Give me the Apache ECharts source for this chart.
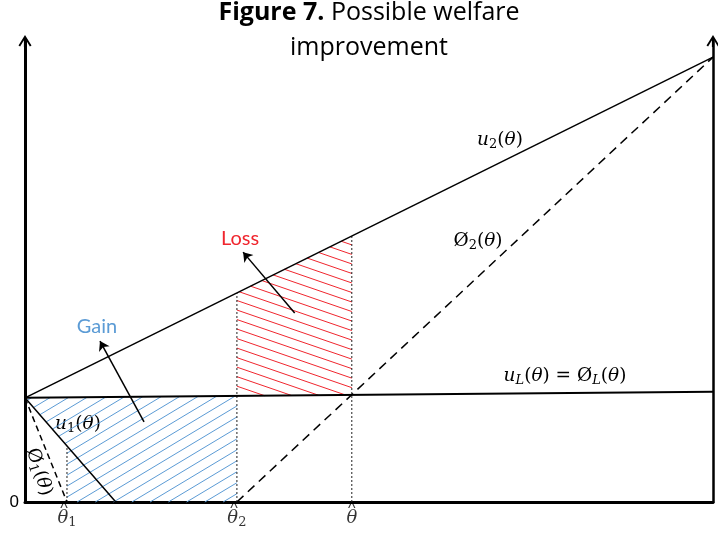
<!DOCTYPE html>
<html>
<head>
<meta charset="utf-8">
<script src="https://cdn.jsdelivr.net/npm/echarts@6/dist/echarts.min.js"></script>
<style>
  html, body { margin: 0; padding: 0; background: #ffffff; }
  #chart { width: 718px; height: 533px; }
</style>
</head>
<body>
<div id="chart"></div>
<script>
// Type index theta runs 0..100 horizontally, utility 0..100 vertically.
const thetaHat1 = 6.1;
const thetaHat2 = 30.8;
const thetaHat = 47.5;
const thetaMarks = [thetaHat1, thetaHat2, thetaHat];
const thetaLabels = ['{t|θ}{s|1}', '{t|θ}{s|2}', '{t|θ}'];

// Straight utility schedules, given by their two end points.
const uLLine = [[0, 22.6], [100, 23.9]];
const u2Line = [[0, 22.6], [100, 96.5]];
const phi2Line = [[thetaHat2, 0], [100, 96.5]];
const u1Line = [[0, 22.6], [13.2, 0]];
const phi1Line = [[0, 22.6], [thetaHat1, 0]];

// Pointers from the region captions into the shaded areas (tail, head).
const gainArrow = [[17.3, 17.4], [10.9, 34.9]];
const lossArrow = [[39.2, 41.0], [31.7, 54.2]];

// Height of a straight schedule at a given theta.
function lineAt(line, x) {
  const a = line[0], b = line[1];
  return a[1] + (b[1] - a[1]) * (x - a[0]) / (b[0] - a[0]);
}

// Gain: under u_L, left of theta-hat-2, above u_1 where u_1 is still positive before theta-hat-1.
const gainRegion = [
  [0, lineAt(uLLine, 0)],
  [thetaHat2, lineAt(uLLine, thetaHat2)],
  [thetaHat2, 0],
  [thetaHat1, 0],
  [thetaHat1, lineAt(u1Line, thetaHat1)]
];
// Loss: between u_L and u_2 for theta between theta-hat-2 and theta-hat.
const lossRegion = [
  [thetaHat2, lineAt(uLLine, thetaHat2)],
  [thetaHat2, lineAt(u2Line, thetaHat2)],
  [thetaHat, lineAt(u2Line, thetaHat)],
  [thetaHat, lineAt(uLLine, thetaHat)]
];

const guideTops = [
  lineAt(u1Line, thetaHat1),
  lineAt(u2Line, thetaHat2),
  lineAt(u2Line, thetaHat)
];

// Parallel hatch lines clipped to a polygon given in pixels.
function hatchSegments(pts, angleDeg, gap) {
  const a = angleDeg * Math.PI / 180;
  const d = [Math.cos(a), -Math.sin(a)];
  const n = [Math.sin(a), Math.cos(a)];
  const ss = pts.map(p => p[0] * n[0] + p[1] * n[1]);
  const along = p => p[0] * d[0] + p[1] * d[1];
  const smin = Math.min.apply(null, ss), smax = Math.max.apply(null, ss);
  const segs = [];
  for (let s = Math.ceil(smin / gap) * gap; s <= smax; s += gap) {
    const hits = [];
    for (let i = 0; i < pts.length; i++) {
      const j = (i + 1) % pts.length;
      const sa = ss[i], sb = ss[j];
      if ((sa <= s && sb > s) || (sb <= s && sa > s)) {
        const k = (s - sa) / (sb - sa);
        hits.push([pts[i][0] + (pts[j][0] - pts[i][0]) * k, pts[i][1] + (pts[j][1] - pts[i][1]) * k]);
      }
    }
    hits.sort((p, q) => along(p) - along(q));
    for (let k = 0; k + 1 < hits.length; k += 2) {
      segs.push([hits[k][0], hits[k][1], hits[k + 1][0], hits[k + 1][1]]);
    }
  }
  return segs;
}

const hatchStyles = [
  { poly: gainRegion, angle: 31, gap: 9.4, color: '#5B9BD5' },
  { poly: lossRegion, angle: -19, gap: 9.0, color: '#F0262E' }
];

const arrowPath = 'path://M6.5,0 L13,10.6 L11.4,11.6 L6.5,3.4 L1.6,11.6 L0,10.6 Z M5.4,1.5 L7.6,1.5 L7.6,12 L5.4,12 Z';

const MATH = 'DejaVu Serif';
const mathRich = {
  i: { fontFamily: MATH, fontStyle: 'italic', fontSize: 18.5, color: '#000', lineHeight: 22 },
  r: { fontFamily: MATH, fontSize: 18.5, color: '#000', lineHeight: 22 },
  s: { fontFamily: MATH, fontSize: 13, color: '#000', lineHeight: 13, verticalAlign: 'bottom' },
  si: { fontFamily: MATH, fontStyle: 'italic', fontSize: 13, color: '#000', lineHeight: 13, verticalAlign: 'bottom' },
  t: { fontFamily: MATH, fontStyle: 'italic', fontSize: 18, color: '#000', lineHeight: 22 }
};

function plainLine(data, width, dash) {
  return {
    type: 'line', data: data, showSymbol: false, silent: true, z: 3,
    lineStyle: { color: '#000', width: width, type: dash || 'solid' },
    clip: false
  };
}

const chart = echarts.init(document.getElementById('chart'), null, { renderer: 'canvas' });

const option = {
  backgroundColor: '#ffffff',
  animation: false,
  grid: { left: 25, right: 5, top: 41, bottom: 31 },
  xAxis: {
    type: 'value', min: 0, max: 100,
    axisLine: { show: true, onZero: false, lineStyle: { color: '#000', width: 3 } },
    axisTick: { show: false }, axisLabel: { show: false }, splitLine: { show: false }
  },
  yAxis: [
    {
      type: 'value', min: 0, max: 100, interval: 100, position: 'left',
      axisLine: { show: true, onZero: false, lineStyle: { color: '#000', width: 3 },
        symbol: ['none', arrowPath], symbolSize: [13, 12] },
      axisTick: { show: false }, splitLine: { show: false },
      axisLabel: { formatter: v => (v === 0 ? '0' : ''), fontFamily: 'Liberation Sans', fontSize: 17, color: '#000', margin: 6, padding: [10, 0, 0, 0] }
    },
    {
      type: 'value', min: 0, max: 100, interval: 100, position: 'right',
      axisLine: { show: true, onZero: false, lineStyle: { color: '#000', width: 2.5 },
        symbol: ['none', arrowPath], symbolSize: [13, 12] },
      axisTick: { show: false }, splitLine: { show: false }, axisLabel: { show: false }
    }
  ],
  series: [
    {
      type: 'custom', silent: true, z: 1, clip: false,
      data: hatchStyles.map((h, i) => [i, 0]),
      renderItem: function (params, api) {
        const h = hatchStyles[params.dataIndex];
        const pts = h.poly.map(p => api.coord(p));
        const segs = hatchSegments(pts, h.angle, h.gap);
        return {
          type: 'group',
          children: segs.map(s => ({
            type: 'line',
            shape: { x1: s[0], y1: s[1], x2: s[2], y2: s[3] },
            style: { stroke: h.color, lineWidth: 1 }
          }))
        };
      }
    },
    plainLine(uLLine, 2),
    plainLine(u2Line, 1.5),
    plainLine(u1Line, 1.5),
    plainLine(phi2Line, 1.5, [9, 6]),
    plainLine(phi1Line, 1.5, [6, 4]),
    ...thetaMarks.map((x, i) => ({
      type: 'line', data: [[x, 0], [x, guideTops[i]]], showSymbol: false, silent: true, z: 2,
      lineStyle: { color: '#222', width: 1, type: [2, 2] }
    })),
    {
      type: 'lines', coordinateSystem: 'cartesian2d', silent: true, z: 4,
      symbol: ['none', 'arrow'], symbolSize: 9,
      lineStyle: { color: '#000', width: 1.5, opacity: 1 },
      data: [{ coords: gainArrow }, { coords: lossArrow }]
    },
    {
      // theta-hat tick captions
      type: 'scatter', silent: true, z: 5, clip: false,
      symbolSize: 0.1, itemStyle: { color: 'rgba(0,0,0,0)' },
      data: thetaMarks.map(x => [x, 0]),
      label: {
        show: true, position: 'bottom', distance: 5,
        formatter: p => thetaLabels[p.dataIndex],
        rich: mathRich
      }
    },
    {
      // circumflex accents over the theta captions
      type: 'scatter', silent: true, z: 6, clip: false,
      symbolSize: 0.1, itemStyle: { color: 'rgba(0,0,0,0)' },
      data: thetaMarks.map((x, i) => ({
        value: [x, 0],
        label: { offset: [i < 2 ? -3 : 0, 0] }
      })),
      label: {
        show: true, position: 'bottom', distance: 0,
        formatter: '^',
        fontFamily: 'Liberation Sans', fontSize: 16, lineHeight: 16, color: '#000'
      }
    }
  ],
  graphic: [
    {
      type: 'text', x: 369, y: 13, silent: true,
      style: {
        text: '{b|Figure 7.} Possible welfare', align: 'center', verticalAlign: 'middle',
        rich: {
          b: { fontFamily: 'Open Sans', fontWeight: 'bold', fontSize: 25, fill: '#000' }
        },
        fontFamily: 'Open Sans', fontSize: 25, fill: '#000'
      }
    },
    {
      type: 'text', x: 369, y: 48, silent: true,
      style: { text: 'improvement', align: 'center', verticalAlign: 'middle', fontFamily: 'Open Sans', fontSize: 25, fill: '#000' }
    },
    {
      type: 'text', x: 97, y: 327, silent: true,
      style: { text: 'Gain', align: 'center', verticalAlign: 'middle', fontFamily: 'Lato', fontSize: 20, fill: '#5B9BD5' }
    },
    {
      type: 'text', x: 240, y: 239, silent: true,
      style: { text: 'Loss', align: 'center', verticalAlign: 'middle', fontFamily: 'Lato', fontSize: 20, fill: '#F0262E' }
    },
    {
      type: 'text', x: 500, y: 140, silent: true,
      style: { text: '{i|u}{s|2}{r|(}{i|θ}{r|)}', align: 'center', verticalAlign: 'middle', rich: mathRich }
    },
    {
      type: 'text', x: 478, y: 241, silent: true,
      style: { text: '{r|Ø}{s|2}{r|(}{i|θ}{r|)}', align: 'center', verticalAlign: 'middle', rich: mathRich }
    },
    {
      type: 'text', x: 565, y: 376, silent: true,
      style: { text: '{i|u}{si|L}{r|(}{i|θ}{r|) = Ø}{si|L}{r|(}{i|θ}{r|)}', align: 'center', verticalAlign: 'middle', rich: mathRich }
    },
    {
      type: 'text', x: 78, y: 424, silent: true,
      style: { text: '{i|u}{s|1}{r|(}{i|θ}{r|)}', align: 'center', verticalAlign: 'middle', rich: mathRich }
    },
    {
      type: 'text', x: 39, y: 472, rotation: -72 * Math.PI / 180, silent: true,
      style: { text: '{r|Ø}{s|1}{r|(}{i|θ}{r|)}', align: 'center', verticalAlign: 'middle', rich: mathRich }
    }
  ]
};

chart.setOption(option);
</script>
</body>
</html>
